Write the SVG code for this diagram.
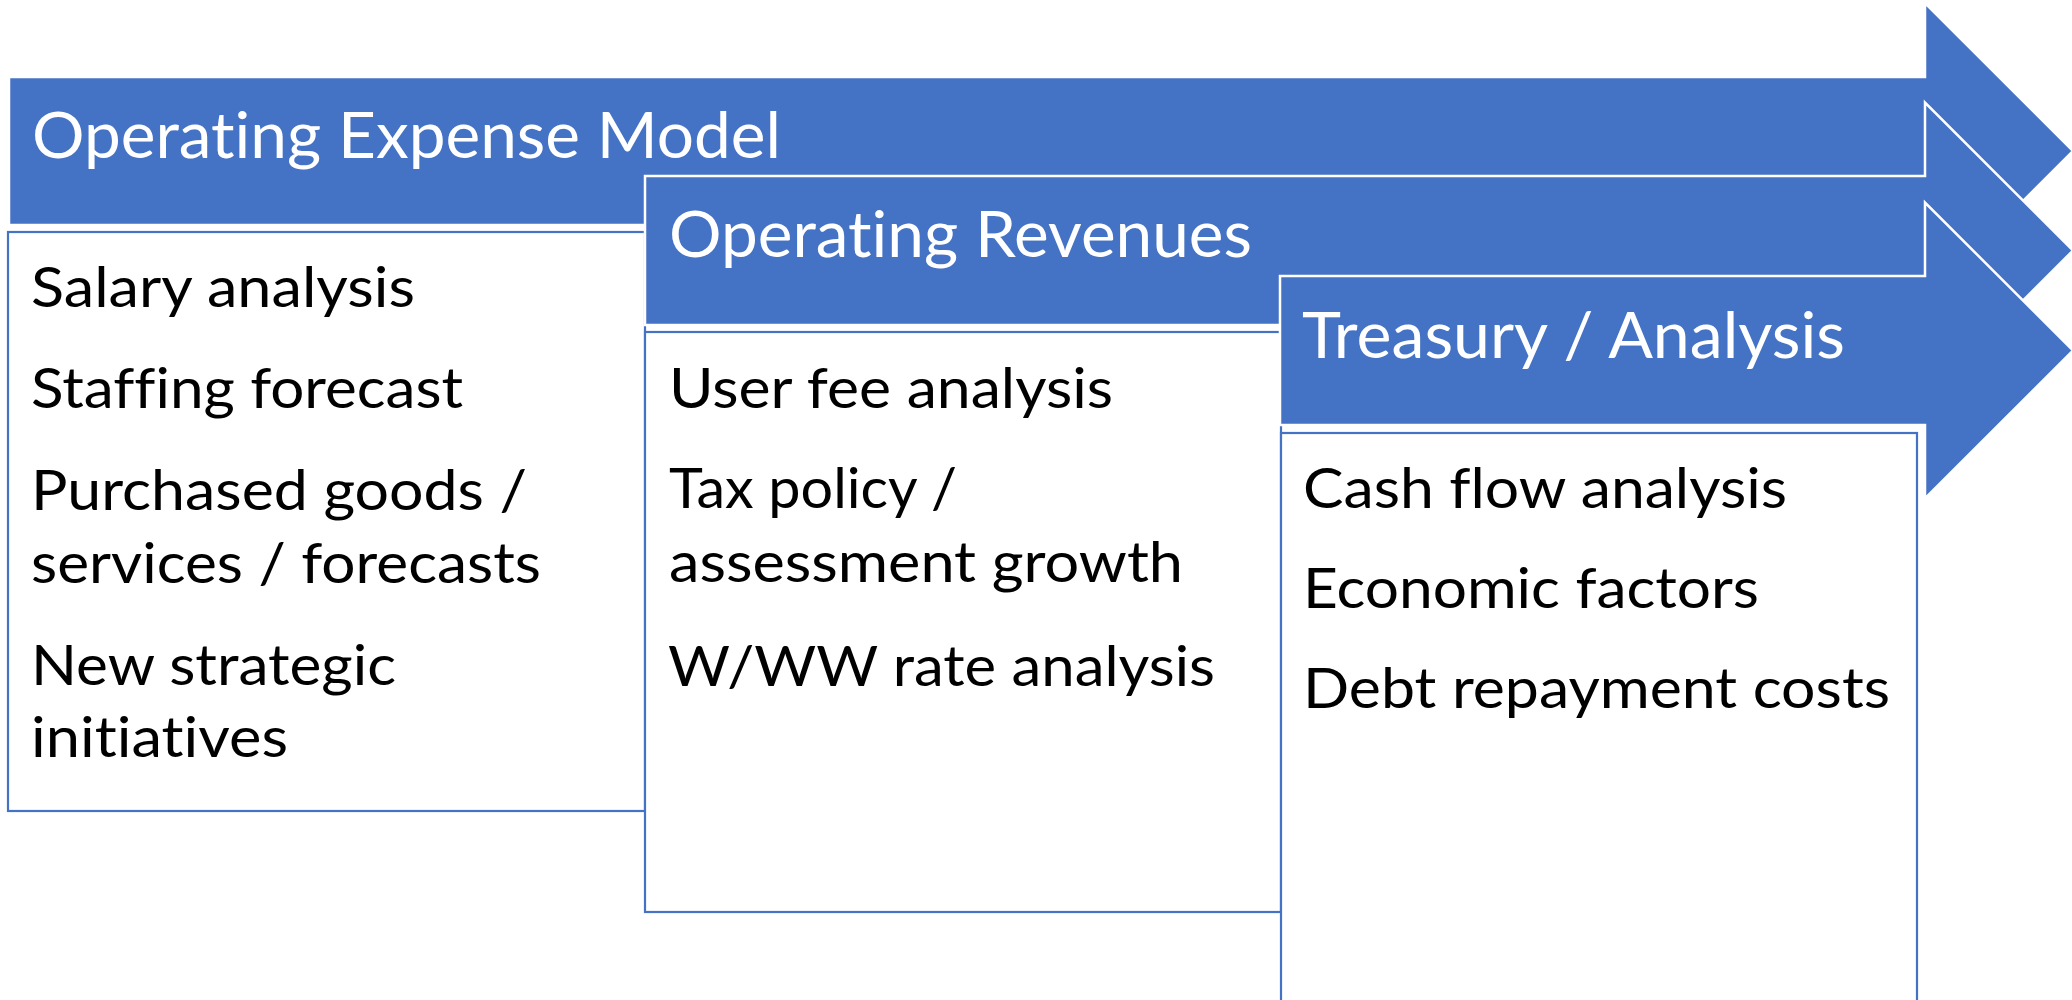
<svg xmlns="http://www.w3.org/2000/svg" width="2072" height="1000" viewBox="0 0 2072 1000">
  <style>
    .arrow { fill: #4472C4; stroke: #FFFFFF; stroke-width: 2.5; stroke-linejoin: miter; }
    .box { fill: #FFFFFF; stroke: #4472C4; stroke-width: 2.2; }
    .head { font-family: Lato, "Liberation Sans", sans-serif; font-size: 63px; fill: #FFFFFF; font-variant-ligatures: none; font-feature-settings: "liga" 0, "clig" 0, "dlig" 0; }
    .item { font-family: Lato, "Liberation Sans", sans-serif; font-size: 57px; fill: #000000; font-variant-ligatures: none; font-feature-settings: "liga" 0, "clig" 0, "dlig" 0; }
  </style>
  <rect x="0" y="0" width="2072" height="1000" fill="#FFFFFF"/>

  <g id="stage1">
    <path class="arrow" d="M9,77 H1925 V3 L2073,151 L1925,299 V225 H9 Z"/>
    <text class="head" x="32" y="158" textLength="749" lengthAdjust="spacingAndGlyphs">Operating Expense Model</text>
  </g>
  <g id="stage1-items">
    <rect class="box" x="8" y="232" width="637" height="579"/>
    <text class="item" x="31" y="307" textLength="384" lengthAdjust="spacingAndGlyphs">Salary analysis</text>
    <text class="item" x="31" y="408" textLength="432" lengthAdjust="spacingAndGlyphs">Staffing forecast</text>
    <text class="item" x="31" y="510" textLength="496" lengthAdjust="spacingAndGlyphs">Purchased goods /</text>
    <text class="item" x="31" y="583" textLength="510" lengthAdjust="spacingAndGlyphs">services / forecasts</text>
    <text class="item" x="31" y="685" textLength="365" lengthAdjust="spacingAndGlyphs">New strategic</text>
    <text class="item" x="31" y="757" textLength="257" lengthAdjust="spacingAndGlyphs">initiatives</text>
  </g>

  <g id="stage2">
    <path class="arrow" d="M645,176 H1925 V102.5 L2073,250.5 L1925,398.5 V325 H645 Z"/>
    <text class="head" x="669" y="257" textLength="583" lengthAdjust="spacingAndGlyphs">Operating Revenues</text>
  </g>
  <g id="stage2-items">
    <rect class="box" x="645" y="332" width="636" height="580"/>
    <text class="item" x="669" y="408" textLength="444" lengthAdjust="spacingAndGlyphs">User fee analysis</text>
    <text class="item" x="669" y="508" textLength="288" lengthAdjust="spacingAndGlyphs">Tax policy /</text>
    <text class="item" x="669" y="582" textLength="514" lengthAdjust="spacingAndGlyphs">assessment growth</text>
    <text class="item" x="668" y="686" textLength="547" lengthAdjust="spacingAndGlyphs">W/WW rate analysis</text>
  </g>

  <g id="stage3">
    <path class="arrow" d="M1280,276 H1925 V202.5 L2073,350.5 L1925,498.5 V425 H1280 Z"/>
    <text class="head" x="1302" y="358" textLength="543" lengthAdjust="spacingAndGlyphs">Treasury / Analysis</text>
  </g>
  <g id="stage3-items">
    <rect class="box" x="1281" y="433" width="636" height="590"/>
    <text class="item" x="1303" y="508" textLength="484" lengthAdjust="spacingAndGlyphs">Cash flow analysis</text>
    <text class="item" x="1303" y="608" textLength="456" lengthAdjust="spacingAndGlyphs">Economic factors</text>
    <text class="item" x="1303" y="708" textLength="587" lengthAdjust="spacingAndGlyphs">Debt repayment costs</text>
  </g>

  <g id="connectors"></g>
</svg>
